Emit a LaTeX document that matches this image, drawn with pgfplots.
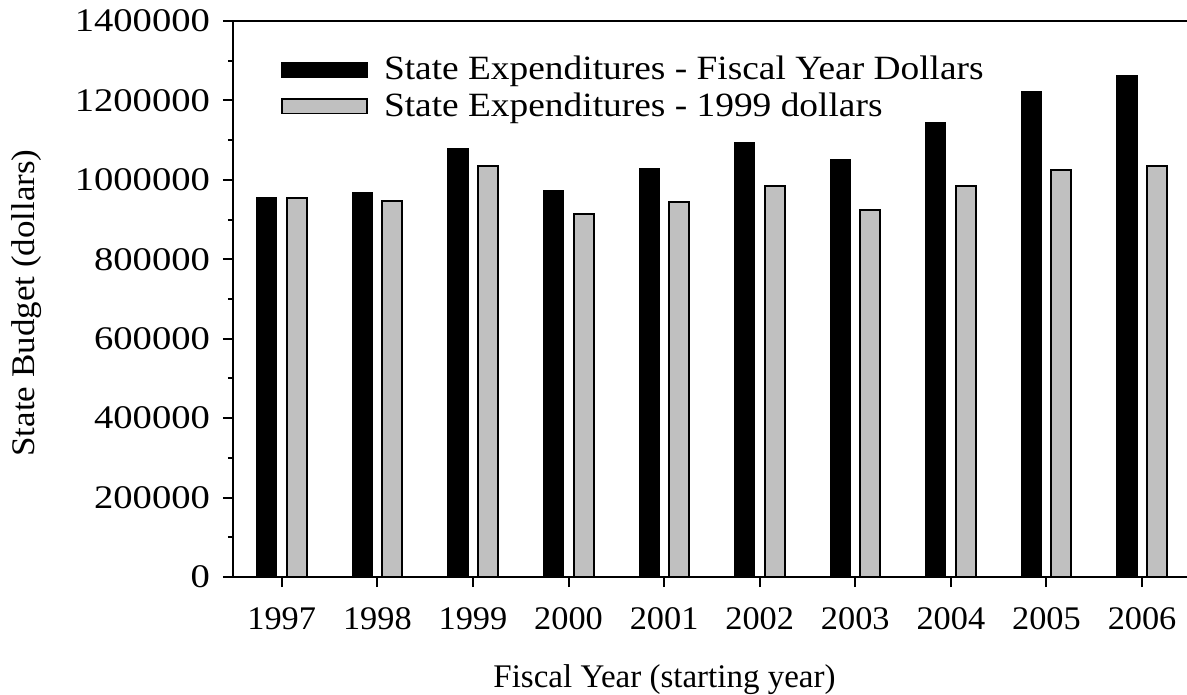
\documentclass[border=0pt]{standalone}
\usepackage{pgfplots}
\pgfplotsset{compat=1.18}
\usepackage{fontspec}
\setmainfont{Liberation Serif}[FakeStretch=1.1]
\newfontfamily\fxt{Liberation Serif}[FakeStretch=1.04]
\newfontfamily\fyt{Liberation Serif}[FakeStretch=1.17]
\newfontfamily\fxl{Liberation Serif}[FakeStretch=1.0]
\newfontfamily\fyl{Liberation Serif}[FakeStretch=1.06]
\usetikzlibrary{calc}

\pgfplotstableread{
idx fy real
0 956000 955000
1 969000 948000
2 1078000 1035000
3 973000 914000
4 1028000 945000
5 1095000 984000
6 1050000 924000
7 1145000 985000
8 1221000 1025000
9 1262000 1035000
}\budget

\begin{document}
\begin{tikzpicture}
\begin{axis}[
  name=ax,
  scale only axis,
  width=477pt, height=278pt,
  xmin=-0.51, xmax=9.47,
  ymin=0, ymax=1400000,
  enlargelimits=false,
  axis x line=box, axis y line=left,
  x axis line style={-}, y axis line style={-},
  axis line style={line width=1.2pt, black},
  xtick={0,...,9},
  xticklabels={1997,1998,1999,2000,2001,2002,2003,2004,2005,2006},
  xtick pos=left, ytick pos=left,
  tick align=outside,
  ytick={0,200000,...,1400000},
  minor y tick num=1,
  major tick length=5pt, minor tick length=2.5pt,
  every tick/.style={black, line width=1pt},
  scaled y ticks=false,
  /pgf/number format/.cd, fixed, 1000 sep={}, assume math mode=true,
  /pgfplots/.cd,
  xticklabel style={font=\fxt\fontsize{16.5}{19}\selectfont, anchor=base, yshift=-21pt},
  yticklabel style={font=\fyt\fontsize{16.5}{19}\selectfont, anchor=east, xshift=-3pt},
  xlabel={Fiscal Year (starting year)},
  xlabel style={font=\fxl\fontsize{16.5}{19}\selectfont, at={(rel axis cs:0.4523,0)}, anchor=base, yshift=-55pt},
  ylabel={State Budget (dollars)},
  ylabel style={font=\fyl\fontsize{16.5}{19}\selectfont, at={(rel axis cs:0,0.5)}, anchor=center, yshift=103pt, xshift=-2pt},
  ybar=5pt, bar width=10pt,
  legend style={at={(rel axis cs:0,1)}, anchor=north west, draw=none, fill=none,
    xshift=21pt, yshift=-13.5pt, font=\fontsize{17}{19}\selectfont,
    row sep=1pt, nodes={inner sep=2pt},
    /tikz/every odd column/.append style={column sep=6pt}},
  legend cell align=left,
  legend image code/.code={\draw[#1, line width=0.8pt] (0pt,-3.6pt) rectangle (42.5pt,3.6pt);},
]
\addplot[fill=black, draw=black, line width=0.6pt] table[x=idx, y=fy] {\budget};
\addlegendentry{State Expenditures - Fiscal Year Dollars}
\addplot[fill={rgb,255:red,192;green,192;blue,192}, draw=black, line width=1pt] table[x=idx, y=real] {\budget};
\addlegendentry{State Expenditures - 1999 dollars}
\end{axis}
\pgfresetboundingbox
\path[use as bounding box] ($(ax.south west)+(-116.5pt,-59pt)$) rectangle ($(ax.north east)+(0pt,10.5pt)$);
\end{tikzpicture}
\end{document}
